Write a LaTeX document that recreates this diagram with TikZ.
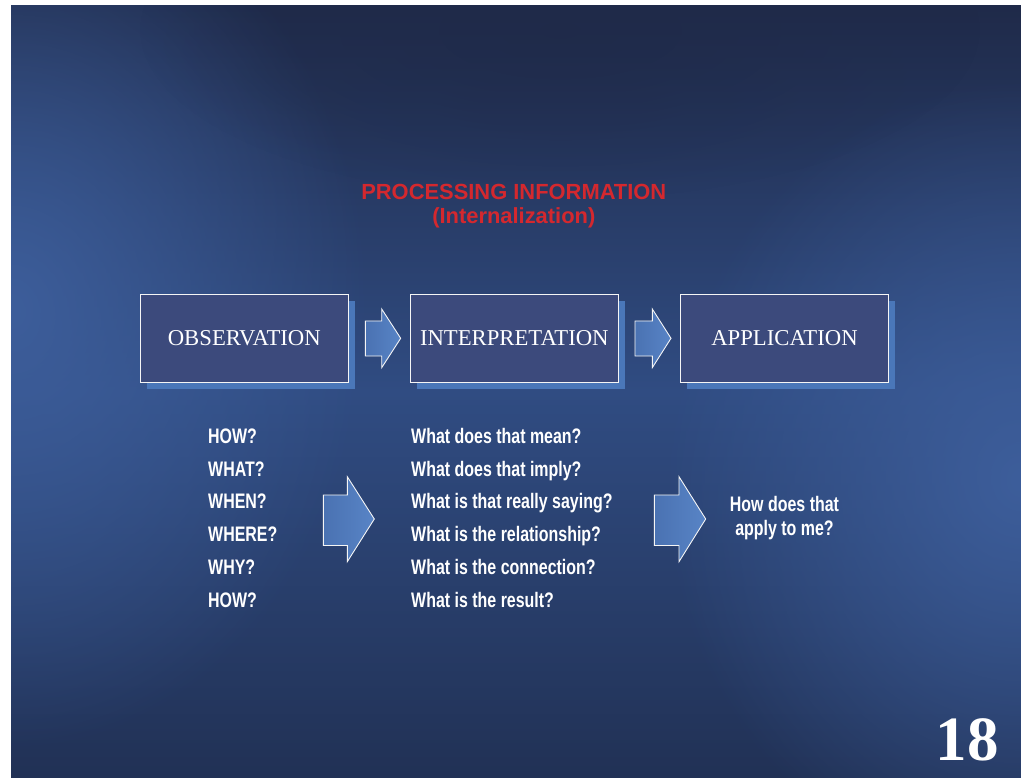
\documentclass[tikz,border=0pt]{standalone}
\usepackage{fontspec}
\setmainfont{Liberation Serif}
\newfontfamily\hv{Liberation Sans}
\newfontfamily\hvn[FakeStretch=0.76]{Liberation Sans}
\usetikzlibrary{fadings}

\tikzfading[name=soft glow, inner color=transparent!0, outer color=transparent!100]

\definecolor{slidetop}{HTML}{1F2A49}
\definecolor{slidemid}{HTML}{304C82}
\definecolor{slidebot}{HTML}{213155}
\definecolor{glow}{HTML}{3D5E9B}
\definecolor{boxfill}{HTML}{3C4A7C}
\definecolor{boxshadow}{HTML}{4A77B9}
\definecolor{arrowL}{HTML}{4A72B2}
\definecolor{arrowR}{HTML}{5884C6}
\definecolor{titlered}{HTML}{D4282E}

\tikzset{
  stagebox/.style={draw=white!92!gray, line width=1.2pt, fill=boxfill,
    minimum width=208pt, minimum height=88.5pt, inner sep=0pt,
    text=white, font=\fontsize{22.7}{25}\selectfont},
  blockarrow/.style={draw=white!92!gray, line width=0.9pt, left color=arrowL, right color=arrowR},
  question/.style={anchor=base west, inner sep=0pt, text=white,
    font=\hvn\bfseries\fontsize{21}{23.3}\selectfont},
  titletext/.style={text=titlered, font=\hv\bfseries\fontsize{21.9}{25}\selectfont, inner sep=0pt}
}

\begin{document}
\begin{tikzpicture}[x=1pt,y=-1pt]
  \useasboundingbox (0,0) rectangle (1021,778);
  \fill[white] (0,0) rectangle (1021,778);

  % slide background
  \shade[top color=slidetop, bottom color=slidebot, middle color=slidemid]
    (11,6) rectangle (1021,778);
  \begin{scope}
    \clip (11,6) rectangle (1021,778);
    \fill[glow, path fading=soft glow] (11,310) ellipse [x radius=360, y radius=440];
    \fill[glow, path fading=soft glow] (1021,480) ellipse [x radius=360, y radius=400];
    \fill[slidetop, path fading=soft glow, opacity=0.7] (560,30) ellipse [x radius=420, y radius=170];
  \end{scope}

  % title
  \node[titletext] (title1) at (513.8,191.7) {PROCESSING INFORMATION};
  \node[titletext] (title2) at (513.8,217.5) {(Internalization)};

  % shadows of the stage boxes
  \fill[boxshadow] (146.8,300.8) rectangle (354.8,389.3);
  \fill[boxshadow] (416.8,300.8) rectangle (624.8,389.3);
  \fill[boxshadow] (686.8,300.8) rectangle (894.8,389.3);

  % stage boxes
  \node[stagebox] (obs) at (244.3,338.5) {OBSERVATION};
  \node[stagebox] (int) at (514.3,338.5) {INTERPRETATION};
  \node[stagebox] (app) at (784.5,338.5) {APPLICATION};

  % small arrows between the boxes
  \draw[blockarrow] (365.3,321) -- (381.7,321) -- (381.7,309) -- (400.7,338.3)
    -- (381.7,367.7) -- (381.7,356) -- (365.3,356) -- cycle;
  \draw[blockarrow] (635,321) -- (652.3,321) -- (652.3,309) -- (671,338.3)
    -- (652.3,367.7) -- (652.3,356) -- (635,356) -- cycle;

  % large arrows between the question lists
  \draw[blockarrow] (323.3,495) -- (347.3,495) -- (347.3,476.7) -- (374.3,519)
    -- (347.3,561.7) -- (347.3,545.5) -- (323.3,545.5) -- cycle;
  \draw[blockarrow] (654.3,495) -- (679,495) -- (679,476.7) -- (705.7,519)
    -- (679,561.7) -- (679,545.5) -- (654.3,545.5) -- cycle;

  % observation questions
  \node[question] (q1) at (208,443.3) {HOW?};
  \node[question] (q2) at (208,476.1) {WHAT?};
  \node[question] (q3) at (208,508.9) {WHEN?};
  \node[question] (q4) at (208,541.7) {WHERE?};
  \node[question] (q5) at (208,574.5) {WHY?};
  \node[question] (q6) at (208,607.3) {HOW?};

  % interpretation questions
  \node[question] (r1) at (411,443.3) {What does that mean?};
  \node[question] (r2) at (411,476.1) {What does that imply?};
  \node[question] (r3) at (411,508.9) {What is that really saying?};
  \node[question] (r4) at (411,541.7) {What is the relationship?};
  \node[question] (r5) at (411,574.5) {What is the connection?};
  \node[question] (r6) at (411,607.3) {What is the result?};

  % application question
  \node[question, anchor=base, align=center] (s1) at (784.5,535)
    {How does that\\apply to me?};

  % slide number
  \node[anchor=base, inner sep=0pt, text=white,
    font=\bfseries\fontsize{63}{63}\selectfont] (num) at (967,760.7) {18};
\end{tikzpicture}
\end{document}
